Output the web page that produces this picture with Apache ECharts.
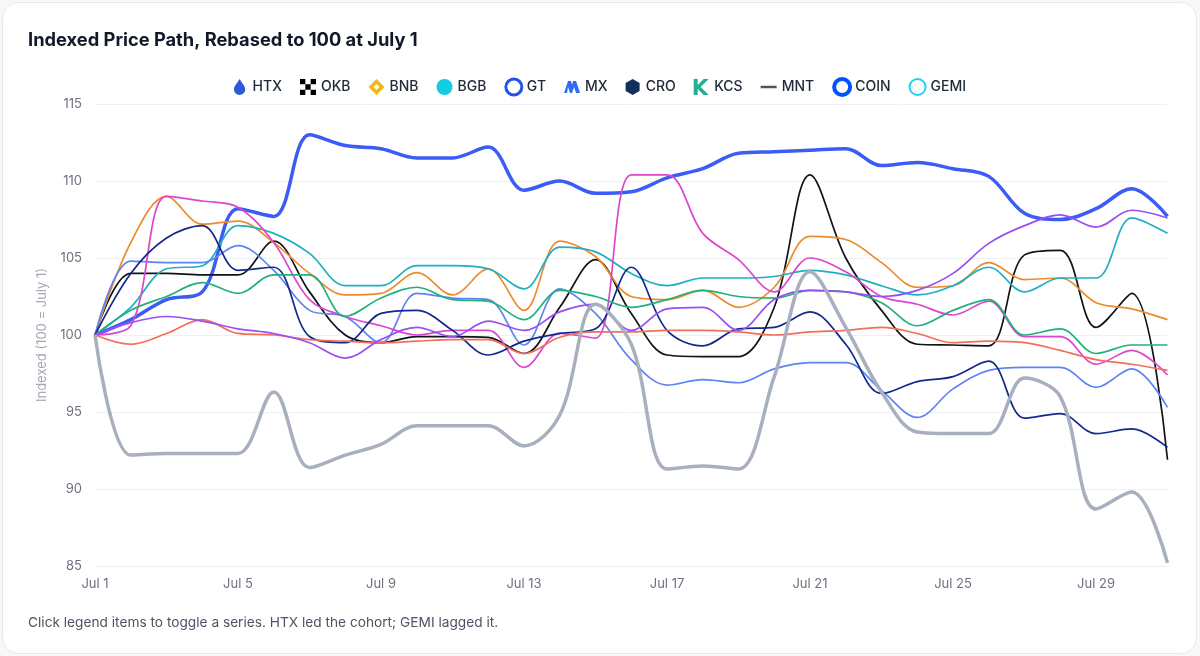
<!DOCTYPE html>
<html>
<head>
<meta charset="utf-8">
<script src="https://cdn.jsdelivr.net/npm/echarts@6/dist/echarts.min.js"></script>
<style>
  html, body { margin: 0; padding: 0; width: 1200px; height: 656px; background: #f7f8fa; overflow: hidden; }
  #card { position: absolute; left: 2px; top: 2px; width: 1193px; height: 650px; background: #fff; border: 1px solid #e6e8ec; border-radius: 16px; }
  #chart { position: absolute; left: 0; top: 0; width: 1200px; height: 656px; }
</style>
</head>
<body>
<div id="card"></div>
<div id="chart"></div>
<script>
const categories = ["Jul 1","Jul 2","Jul 3","Jul 4","Jul 5","Jul 6","Jul 7","Jul 8","Jul 9","Jul 10","Jul 11","Jul 12","Jul 13","Jul 14","Jul 15","Jul 16","Jul 17","Jul 18","Jul 19","Jul 20","Jul 21","Jul 22","Jul 23","Jul 24","Jul 25","Jul 26","Jul 27","Jul 28","Jul 29","Jul 30","Jul 31"];

const HTX  = [100, 101.0, 102.3, 102.8, 108.2, 107.7, 113.0, 112.3, 112.1, 111.5, 111.5, 112.2, 109.4, 110.0, 109.2, 109.3, 110.2, 110.8, 111.8, 111.9, 112.0, 112.1, 111.0, 111.2, 110.8, 110.3, 107.9, 107.5, 108.2, 109.5, 107.7];
const OKB  = [100, 104.0, 104.0, 103.9, 103.9, 106.1, 102.8, 100.0, 99.5, 99.9, 99.9, 99.85, 98.8, 101.8, 104.9, 101.4, 98.7, 98.6, 98.6, 101.8, 110.4, 105.0, 101.6, 99.4, 99.35, 99.3, 105.2, 105.5, 100.5, 102.7, 91.9];
const BNB  = [100, 106.0, 109.0, 107.2, 107.4, 106.0, 104.0, 102.6, 102.7, 104.05, 102.6, 104.3, 101.6, 106.1, 105.1, 102.5, 102.3, 102.9, 101.8, 103.1, 106.4, 106.2, 104.7, 103.1, 103.2, 104.7, 103.6, 103.7, 102.1, 101.7, 101.0];
const BGB  = [100, 101.8, 104.3, 104.5, 107.1, 106.6, 105.3, 103.2, 103.2, 104.5, 104.5, 104.3, 103.0, 105.7, 105.4, 104.0, 103.2, 103.7, 103.7, 103.8, 104.2, 103.9, 103.2, 102.6, 103.2, 104.4, 102.8, 103.7, 103.7, 107.6, 106.6];
const GT   = [100, 104.8, 104.7, 104.7, 105.8, 104.2, 101.6, 101.2, 99.5, 102.7, 102.4, 102.3, 99.35, 103.0, 101.4, 98.4, 96.75, 97.1, 96.9, 97.8, 98.2, 98.2, 96.4, 94.65, 96.5, 97.7, 97.9, 97.9, 96.6, 97.8, 95.3];
const MX   = [100, 100.6, 109.0, 108.7, 108.3, 106.0, 102.3, 101.2, 100.6, 100.0, 100.3, 100.3, 97.9, 100.1, 99.8, 110.4, 110.4, 106.6, 104.9, 102.8, 105.0, 104.1, 102.5, 102.0, 101.3, 102.2, 99.9, 99.9, 98.1, 99.0, 97.4];
const CRO  = [100, 104.0, 106.3, 107.1, 104.2, 104.4, 99.9, 99.5, 101.4, 101.6, 100.3, 98.7, 99.6, 100.1, 100.4, 104.4, 100.3, 99.3, 100.4, 100.5, 101.5, 99.4, 96.2, 96.97, 97.3, 98.3, 94.6, 94.9, 93.6, 93.9, 92.7];
const KCS  = [100, 101.6, 102.5, 103.4, 102.7, 103.9, 103.9, 101.2, 102.4, 103.1, 102.3, 102.2, 101.0, 102.9, 102.5, 101.8, 102.3, 102.9, 102.5, 102.4, 102.9, 102.8, 102.1, 100.6, 101.6, 102.3, 100.0, 100.4, 98.8, 99.35, 99.35];
const MNT  = [100, 99.4, 100.1, 101.0, 100.1, 100.0, 99.7, 99.6, 99.5, 99.6, 99.7, 99.7, 98.8, 99.85, 100.2, 100.2, 100.3, 100.3, 100.2, 100.0, 100.2, 100.3, 100.5, 100.1, 99.5, 99.6, 99.5, 99.0, 98.4, 98.1, 97.7];
const COIN = [100, 100.8, 101.2, 100.9, 100.4, 100.1, 99.5, 98.5, 99.7, 100.5, 99.9, 100.9, 100.3, 101.5, 102.0, 100.3, 101.7, 101.8, 100.3, 102.3, 102.9, 102.8, 102.5, 102.9, 104.0, 105.95, 107.1, 107.8, 107.0, 108.1, 107.6];
const GEMI = [100, 92.2, 92.3, 92.3, 92.3, 96.3, 91.4, 92.2, 92.9, 94.1, 94.1, 94.1, 92.8, 94.8, 102.0, 99.4, 91.3, 91.5, 91.3, 97.3, 104.1, 100.5, 96.3, 93.7, 93.6, 93.6, 97.2, 96.0, 88.7, 89.8, 85.2];

const yTicks = { min: 85, max: 115, interval: 5 };

const seriesDefs = [
  { name: 'HTX',  data: HTX,  color: '#3b5cf5', width: 3.5 },
  { name: 'OKB',  data: OKB,  color: '#111318', width: 1.7 },
  { name: 'BNB',  data: BNB,  color: '#ee8a2b', width: 1.7 },
  { name: 'BGB',  data: BGB,  color: '#1eafc0', width: 1.7 },
  { name: 'GT',   data: GT,   color: '#5e84f2', width: 1.7 },
  { name: 'MX',   data: MX,   color: '#dc46cf', width: 1.7 },
  { name: 'CRO',  data: CRO,  color: '#13298c', width: 1.7 },
  { name: 'KCS',  data: KCS,  color: '#22b07c', width: 1.7 },
  { name: 'MNT',  data: MNT,  color: '#f26f5c', width: 1.7 },
  { name: 'COIN', data: COIN, color: '#9a4ef3', width: 1.7 },
  { name: 'GEMI', data: GEMI, color: '#a8afbe', width: 3.5 }
];

const legendIcons = {
  HTX:  { icon: 'path://M8,0C10,4,14,7,14,11C14,14.5,11,17,8,17C5,17,2,14.5,2,11C2,7,6,4,8,0Z', itemStyle: { color: '#2b5bd8', borderWidth: 0 } },
  OKB:  { icon: 'path://M0,0L5,0L5,5L0,5Z M10,0L15,0L15,5L10,5Z M5,5L10,5L10,10L5,10Z M0,10L5,10L5,15L0,15Z M10,10L15,10L15,15L10,15Z', itemStyle: { color: '#000', borderWidth: 0 } },
  BNB:  { icon: 'path://M8,0L16,8L8,16L0,8Z M8,5L5,8L8,11L11,8Z', itemStyle: { color: '#f0b90b', borderWidth: 0 } },
  BGB:  { icon: 'circle', itemStyle: { color: '#10cde3', borderWidth: 0 } },
  GT:   { icon: 'circle', itemStyle: { color: '#fff', borderColor: '#2354e6', borderWidth: 3 } },
  MX:   { icon: 'path://M0,14L4,2L7,2L8,6L9,2L12,2L16,14L12,14L10,8L8,14L6,14L4,8L3,14Z', itemStyle: { color: '#2c6cf6', borderWidth: 0 } },
  CRO:  { icon: 'path://M8,0L15,4L15,12L8,16L1,12L1,4Z', itemStyle: { color: '#12305e', borderWidth: 0 } },
  KCS:  { icon: 'path://M0,0L4,0L4,6L10,0L15,0L7,8L15,16L10,16L4,10L4,16L0,16Z', itemStyle: { color: '#23af91', borderWidth: 0 } },
  MNT:  { icon: 'path://M0,7L16,7L16,9.5L0,9.5Z', itemStyle: { color: '#555', borderWidth: 0 } },
  COIN: { icon: 'circle', itemStyle: { color: '#fff', borderColor: '#0052ff', borderWidth: 4 } },
  GEMI: { icon: 'circle', itemStyle: { color: '#fff', borderColor: '#1fd3f0', borderWidth: 2 } }
};

const chart = echarts.init(document.getElementById('chart'), null, { renderer: 'canvas' });
const FONT = 'Inter, "Noto Sans", sans-serif';

chart.setOption({
  backgroundColor: 'transparent',
  animation: false,
  textStyle: { fontFamily: FONT },
  title: [
    { text: 'Indexed Price Path, Rebased to 100 at July 1', left: 28, top: 32, padding: 0,
      textStyle: { fontFamily: FONT, fontSize: 18.3, fontWeight: 700, color: '#111827' } },
    { text: 'Click legend items to toggle a series. HTX led the cohort; GEMI lagged it.', left: 28, top: 616, padding: 0,
      textStyle: { fontFamily: FONT, fontSize: 13.7, fontWeight: 400, color: '#4b5563' } }
  ],
  legend: {
    top: 77, left: 'center', padding: 0, itemWidth: 16, itemHeight: 16, itemGap: 18,
    textStyle: { fontFamily: FONT, fontSize: 14, fontWeight: 500, color: '#1f2937' },
    data: seriesDefs.map(s => Object.assign({ name: s.name }, legendIcons[s.name]))
  },
  grid: { left: 95, right: 32.5, top: 104, bottom: 90, containLabel: false },
  xAxis: {
    type: 'category', data: categories, boundaryGap: false,
    axisLine: { show: false }, axisTick: { show: false },
    axisLabel: { interval: 3, margin: 12, color: '#6b7280', fontSize: 13, fontFamily: FONT },
    splitLine: { show: false }
  },
  yAxis: {
    type: 'value', min: yTicks.min, max: yTicks.max, interval: yTicks.interval,
    name: 'Indexed (100 = July 1)', nameLocation: 'middle', nameGap: 46,
    nameTextStyle: { color: '#a3aab6', fontSize: 13, fontFamily: FONT },
    axisLine: { show: false }, axisTick: { show: false },
    axisLabel: { margin: 13, color: '#6b7280', fontSize: 13, fontFamily: FONT },
    splitLine: { lineStyle: { color: '#eef0f4', width: 1 } }
  },
  series: seriesDefs.map(s => ({
    name: s.name, type: 'line', data: s.data, smooth: 0.35, symbol: 'none',
    color: s.color,
    lineStyle: { color: s.color, width: s.width },
    emphasis: { disabled: true }
  }))
});
</script>
</body>
</html>
